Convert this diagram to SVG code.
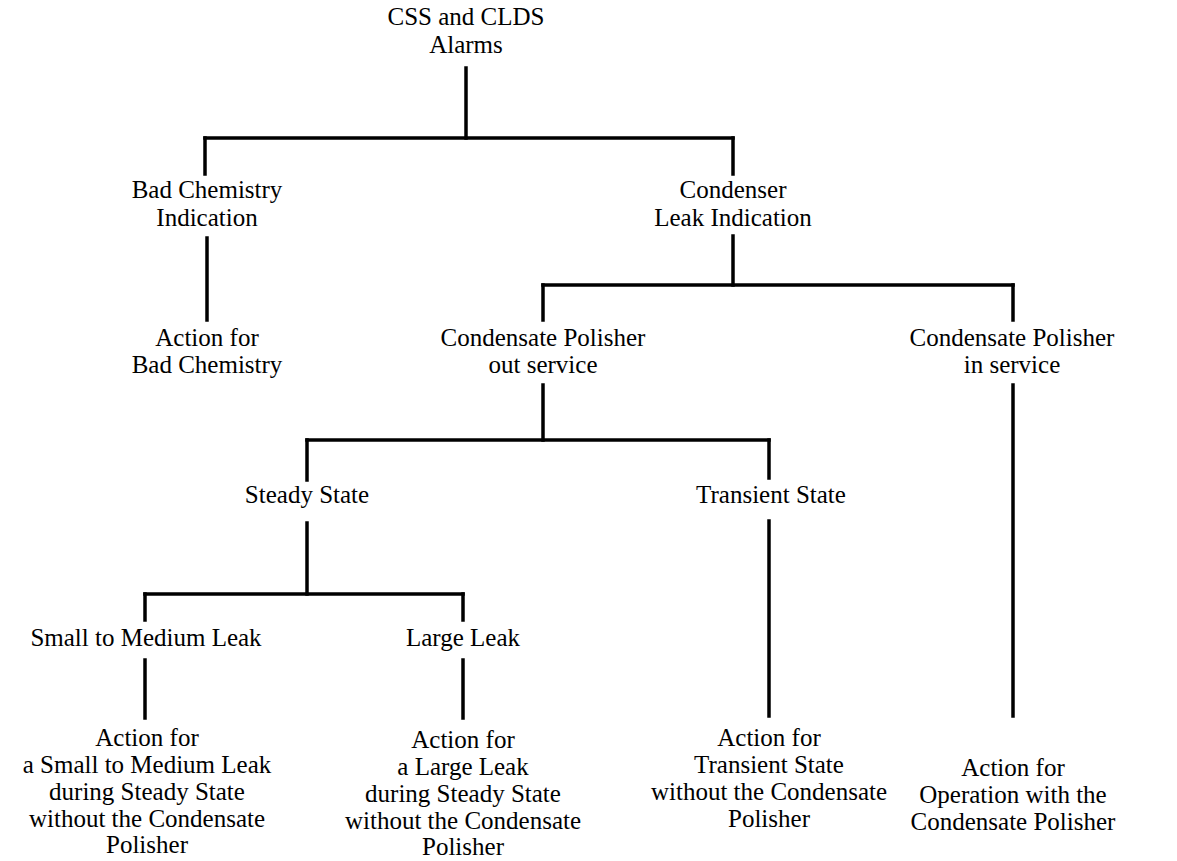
<svg xmlns="http://www.w3.org/2000/svg" width="1177" height="861" viewBox="0 0 1177 861">
<style>
text{font-family:Liberation Serif,DejaVu Serif,serif;font-size:25px;fill:#000;text-anchor:middle}
.c line{stroke:#000;stroke-width:3.5;stroke-linecap:square}
</style>
<rect width="1177" height="861" fill="#fff"/>
<g class="c" id="connectors">
<line x1="466" y1="68" x2="466" y2="138"/>
<line x1="205" y1="138" x2="733" y2="138"/>
<line x1="205" y1="138" x2="205" y2="174"/>
<line x1="733" y1="138" x2="733" y2="174"/>
<line x1="207" y1="238" x2="207" y2="320"/>
<line x1="733" y1="236" x2="733" y2="285"/>
<line x1="543" y1="285" x2="1013" y2="285"/>
<line x1="543" y1="285" x2="543" y2="320"/>
<line x1="1013" y1="285" x2="1013" y2="320"/>
<line x1="543" y1="385" x2="543" y2="440"/>
<line x1="307" y1="440" x2="769" y2="440"/>
<line x1="307" y1="440" x2="307" y2="480"/>
<line x1="769" y1="440" x2="769" y2="478"/>
<line x1="307" y1="523" x2="307" y2="594"/>
<line x1="145" y1="594" x2="463" y2="594"/>
<line x1="145" y1="594" x2="145" y2="620"/>
<line x1="463" y1="594" x2="463" y2="620"/>
<line x1="145" y1="660" x2="145" y2="718"/>
<line x1="463" y1="660" x2="463" y2="718"/>
<line x1="769" y1="521" x2="769" y2="716"/>
<line x1="1013" y1="385" x2="1013" y2="716"/>
</g>
<g id="root"><text x="466" y="25">CSS and CLDS</text><text x="466" y="53">Alarms</text></g>
<g id="badchem"><text x="207" y="198">Bad Chemistry</text><text x="207" y="226">Indication</text></g>
<g id="condenser"><text x="733" y="198">Condenser</text><text x="733" y="226">Leak Indication</text></g>
<g id="actbad"><text x="207" y="346">Action for</text><text x="207" y="373">Bad Chemistry</text></g>
<g id="cpout"><text x="543" y="346">Condensate Polisher</text><text x="543" y="373">out service</text></g>
<g id="cpin"><text x="1012" y="346">Condensate Polisher</text><text x="1012" y="373">in service</text></g>
<g id="steady"><text x="307" y="503">Steady State</text></g>
<g id="transient"><text x="771" y="503">Transient State</text></g>
<g id="small"><text x="146" y="646">Small to Medium Leak</text></g>
<g id="large"><text x="463" y="646">Large Leak</text></g>
<g id="actsmall"><text x="147" y="746">Action for</text><text x="147" y="773">a Small to Medium Leak</text><text x="147" y="800">during Steady State</text><text x="147" y="827">without the Condensate</text><text x="147" y="853">Polisher</text></g>
<g id="actlarge"><text x="463" y="748">Action for</text><text x="463" y="775">a Large Leak</text><text x="463" y="802">during Steady State</text><text x="463" y="829">without the Condensate</text><text x="463" y="855">Polisher</text></g>
<g id="acttrans"><text x="769" y="746">Action for</text><text x="769" y="773">Transient State</text><text x="769" y="800">without the Condensate</text><text x="769" y="827">Polisher</text></g>
<g id="actop"><text x="1013" y="776">Action for</text><text x="1013" y="803">Operation with the</text><text x="1013" y="830">Condensate Polisher</text></g>
</svg>
